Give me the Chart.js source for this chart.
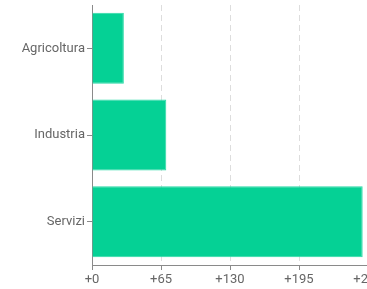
<!DOCTYPE html>
<html>
<head>
<meta charset="utf-8">
<script src="https://cdn.jsdelivr.net/npm/chart.js@4/dist/chart.umd.min.js"></script>
<style>
html,body{margin:0;padding:0;overflow:hidden;background:#fff;width:367px;height:289px;}
#wrap{position:relative;width:368px;height:289px;}
</style>
</head>
<body>
<div id="wrap"><canvas id="c"></canvas></div>
<script>
const categories = ['Agricoltura', 'Industria', 'Servizi'];
const values = [30, 70, 255];
const xTicks = [0, 65, 130, 195, 260];

const axisColor = '#8a8a8a';
const textColor = '#666666';

new Chart(document.getElementById('c'), {
  type: 'bar',
  data: {
    labels: categories,
    datasets: [{
      data: values,
      backgroundColor: '#05d195',
      borderColor: '#2ad9a6',
      borderWidth: 1,
      categoryPercentage: 1,
      barPercentage: 0.82
    }]
  },
  options: {
    indexAxis: 'y',
    responsive: true,
    maintainAspectRatio: false,
    animation: false,
    layout: { padding: { top: 5, left: 0, right: 0, bottom: 0 } },
    plugins: { legend: { display: false }, tooltip: { enabled: false } },
    font: { family: 'Roboto' },
    scales: {
      x: {
        min: xTicks[0],
        max: xTicks[xTicks.length - 1],
        afterBuildTicks: (s) => { s.ticks = xTicks.map(v => ({ value: v })); },
        afterFit: (s) => { s.height = 24; s.paddingRight = 0; s.paddingLeft = 0; },
        ticks: {
          color: textColor,
          font: { family: 'Roboto', size: 13 },
          padding: 2,
          maxRotation: 0,
          autoSkip: false,
          callback: (v) => '+' + v
        },
        grid: {
          color: '#dddddd',
          lineWidth: 1,
          tickColor: axisColor,
          tickLength: 5,
          drawOnChartArea: true
        },
        border: { display: true, color: axisColor, width: 1, dash: [6, 4] }
      },
      y: {
        afterFit: (s) => { s.width = 92; s.paddingTop = 0; s.paddingBottom = 0; },
        ticks: {
          color: textColor,
          font: { family: 'Roboto', size: 13 },
          padding: 2
        },
        grid: {
          offset: false,
          drawOnChartArea: false,
          tickColor: axisColor,
          tickLength: 5
        },
        border: { display: true, color: axisColor, width: 1 }
      }
    }
  }
});
</script>
</body>
</html>
